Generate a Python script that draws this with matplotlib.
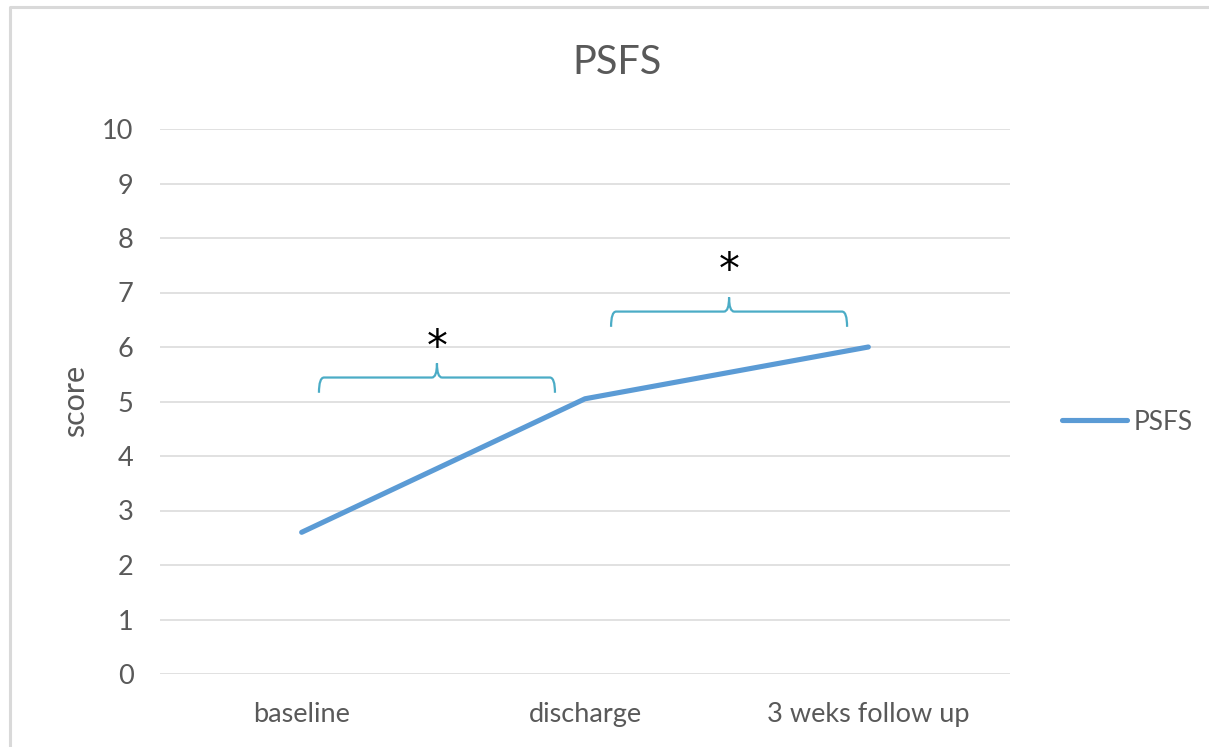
import matplotlib
matplotlib.use("Agg")
import matplotlib.pyplot as plt
from matplotlib.path import Path
from matplotlib.patches import PathPatch
from matplotlib.lines import Line2D

categories = ["baseline", "discharge", "3 weks follow up"]
psfs = [2.6, 5.05, 6.0]
y_ticks = list(range(0, 11))
series_name = "PSFS"
title = "PSFS"
y_label = "score"
# significance brackets: (x start, x end, horizontal y, label y, label)
brackets = [(0.061, 0.894, 5.44, 5.99, "*"), (1.092, 1.925, 6.65, 7.40, "*")]

plt.rcParams["font.family"] = ["Lato", "DejaVu Sans"]
GREY = "#595959"

fig = plt.figure(figsize=(12.09, 7.47), dpi=100)
ax = fig.add_axes([160/1209, 1-674/747, 850/1209, 545/747])

x = list(range(len(categories)))
ax.plot(x, psfs, color="#5B9BD5", lw=3.7, solid_capstyle="round", label=series_name, zorder=3)

ax.set_xlim(-0.5, len(categories) - 0.5)
ax.set_ylim(0, 10)
ax.set_yticks(y_ticks)
ax.set_xticks(x)
ax.set_xticklabels(categories)
ax.grid(axis="y", color="#D9D9D9", lw=1.1)
ax.set_axisbelow(True)
for s in ax.spines.values():
    s.set_visible(False)
ax.tick_params(axis="both", length=0, labelsize=19.5, colors=GREY)
ax.tick_params(axis="y", pad=19)
ax.tick_params(axis="x", pad=20)

# brackets
tip = 0.28
peak = 0.26
dx = 0.018
for x0, x1, yh, ylab, lab in brackets:
    xm = (x0 + x1) / 2
    verts = [
        (x0, yh - tip), (x0, yh), (x0 + dx, yh),
        (xm - dx, yh), (xm, yh), (xm, yh + peak),
        (xm, yh), (xm + dx, yh),
        (x1 - dx, yh), (x1, yh), (x1, yh - tip),
    ]
    codes = [Path.MOVETO, Path.CURVE3, Path.CURVE3,
             Path.LINETO, Path.CURVE3, Path.CURVE3,
             Path.CURVE3, Path.CURVE3,
             Path.LINETO, Path.CURVE3, Path.CURVE3]
    ax.add_patch(PathPatch(Path(verts, codes), fill=False, edgecolor="#4BACC6", lw=1.6, zorder=2))
    ax.text(xm, ylab, lab, ha="center", va="center", fontsize=30,
            color="black", family="DejaVu Sans")

fig.text(617/1209, 1-63/747, title, ha="center", va="center", fontsize=28.5, color=GREY)
fig.text(75/1209, 1-401/747, y_label, rotation=90, ha="center", va="center", fontsize=22, color=GREY)

leg = fig.legend(loc="center left", bbox_to_anchor=(1062/1209, 1-422/747), frameon=False,
                 borderpad=0, borderaxespad=0, handlelength=2.45, handletextpad=0.28,
                 fontsize=19)
for t in leg.get_texts():
    t.set_color(GREY)

# chart-area border (top and left visible)
fig.add_artist(Line2D([9.5/1209, 9.5/1209, 1.01], [-0.01, 1-7/747, 1-7/747],
                      transform=fig.transFigure, color="#D9D9D9", lw=2.2))

fig.savefig("out.png", dpi=100)
